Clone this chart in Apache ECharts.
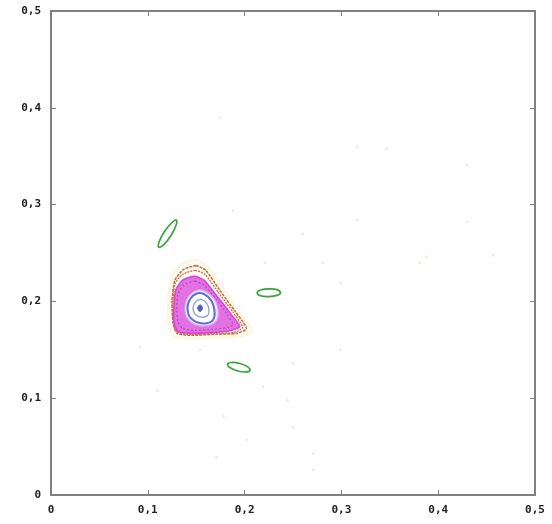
<!DOCTYPE html>
<html>
<head>
<meta charset="utf-8">
<script src="https://cdn.jsdelivr.net/npm/echarts@6/dist/echarts.min.js"></script>
<style>
html,body{margin:0;padding:0;background:#fff;}
#chart{width:552px;height:524px;}
</style>
</head>
<body>
<div id="chart"></div>
<script>
// ---- tick labels ----
const xTickLabels = ['0', '0,1', '0,2', '0,3', '0,4', '0,5'];
const yTickLabels = ['0', '0,1', '0,2', '0,3', '0,4', '0,5'];

// ---- closed orbits (x, y) ----
const greenLoopUpper = [[0.1295,0.284],[0.1250,0.2815],[0.1172,0.2722],[0.1117,0.2616],[0.1115,0.256],[0.1166,0.2586],[0.1238,0.2678],[0.1291,0.2784]];
const greenLoopRight = [[0.237,0.209],[0.2335,0.2122],[0.225,0.213],[0.2165,0.2118],[0.213,0.209],[0.2165,0.2058],[0.225,0.205],[0.2335,0.2062]];
const greenLoopLower = [[0.2056,0.1289],[0.2029,0.1326],[0.195,0.1359],[0.1865,0.1369],[0.1824,0.1351],[0.1851,0.1314],[0.193,0.1281],[0.2015,0.1271]];

const haloLoop = [[0.1494,0.2424],[0.1348,0.2379],[0.1248,0.2256],[0.1214,0.201],[0.1225,0.1763],[0.127,0.164],[0.1438,0.1618],[0.1718,0.1629],[0.1964,0.164],[0.2076,0.1696],[0.1942,0.1898],[0.1763,0.2144],[0.1606,0.2368]];
const outerLoop = [[0.150,0.237],[0.137,0.233],[0.128,0.222],[0.125,0.200],[0.126,0.178],[0.130,0.167],[0.145,0.165],[0.170,0.166],[0.192,0.167],[0.202,0.172],[0.190,0.190],[0.174,0.212],[0.160,0.232]];
const redLoop = [[0.149,0.232],[0.136,0.228],[0.128,0.218],[0.126,0.198],[0.1265,0.178],[0.1305,0.168],[0.145,0.166],[0.169,0.167],[0.189,0.168],[0.198,0.173],[0.188,0.189],[0.173,0.209],[0.159,0.228]];
const magentaLoop = [[0.148,0.226],[0.136,0.222],[0.129,0.212],[0.127,0.195],[0.127,0.178],[0.131,0.169],[0.145,0.167],[0.168,0.168],[0.186,0.170],[0.195,0.174],[0.185,0.188],[0.171,0.206],[0.158,0.222]];
const magentaInnerLoop = [[0.149,0.221],[0.137,0.217],[0.131,0.207],[0.130,0.192],[0.131,0.179],[0.136,0.172],[0.148,0.170],[0.167,0.171],[0.182,0.173],[0.188,0.176],[0.181,0.188],[0.170,0.203],[0.158,0.217]];
const lilacLoop = [[0.152,0.2118],[0.164,0.2073],[0.1715,0.196],[0.1715,0.181],[0.1618,0.175],[0.1482,0.1765],[0.1392,0.1862],[0.1407,0.2028]];
const blueLoop = [[0.1525,0.2086],[0.1624,0.2045],[0.1681,0.1946],[0.1681,0.1823],[0.1607,0.1774],[0.1493,0.1791],[0.1419,0.1873],[0.1427,0.2004]];
const greyLoop = [[0.1536,0.2021],[0.1593,0.1997],[0.1627,0.194],[0.1627,0.1868],[0.1584,0.1839],[0.1516,0.1848],[0.1473,0.1896],[0.1478,0.1973]];
const coreLoop = [[0.1565,0.193],[0.154,0.1965],[0.1515,0.193],[0.154,0.1895]];

// ---- faint chaotic-sea points ----
const seaPoints = [[0.316,0.36],[0.347,0.358],[0.43,0.341],[0.188,0.294],[0.316,0.284],[0.43,0.282],[0.26,0.27],[0.221,0.24],[0.281,0.24],[0.388,0.246],[0.457,0.248],[0.381,0.24],[0.299,0.219],[0.175,0.39],[0.092,0.153],[0.11,0.108],[0.178,0.081],[0.171,0.039],[0.202,0.057],[0.25,0.07],[0.271,0.043],[0.271,0.026],[0.244,0.098],[0.299,0.15],[0.25,0.136],[0.154,0.15],[0.219,0.112]];

// ---- drawing styles (kept apart from the data) ----
const layers = [
  {loop: haloLoop,         stroke: '#fbf7e2', width: 3,   fill: null, smooth: 0.25},
  {loop: outerLoop,        stroke: '#c47438', width: 1.6, fill: '#fffaf4', dash: [3,1], smooth: 0.2},
  {loop: redLoop,          stroke: '#d9683e', width: 1.3, fill: null, dash: [2,1], smooth: 0.2},
  {loop: magentaLoop,      stroke: '#d448d4', width: 1.6, fill: '#e272e2', smooth: 0.2},
  {loop: magentaInnerLoop, stroke: '#c73ccc', width: 1.2, fill: null, dash: [2,2], smooth: 0.2},
  {loop: lilacLoop,        stroke: '#d8aef0', width: 1.2, fill: '#f3e6f8', smooth: 0.35},
  {loop: blueLoop,         stroke: '#5a6fe0', width: 2,   fill: '#ffffff', smooth: 0.35},
  {loop: greyLoop,         stroke: '#8fa8c6', width: 1.4, fill: null, smooth: 0.35},
  {loop: coreLoop,         stroke: '#4a64b0', width: 1,   fill: '#4a64b0', smooth: 0.35},
  {loop: greenLoopUpper,   stroke: '#36a43a', width: 1.7, fill: null, smooth: 0.35},
  {loop: greenLoopRight,   stroke: '#36a43a', width: 1.7, fill: null, smooth: 0.35},
  {loop: greenLoopLower,   stroke: '#36a43a', width: 1.7, fill: null, smooth: 0.35}
];

const chart = echarts.init(document.getElementById('chart'), null, {renderer: 'canvas'});

const frameColor = '#808080';
const labelStyle = {fontFamily: 'DejaVu Sans Mono', fontWeight: 'bold', fontSize: 11, color: '#222'};

function axis(pos, labels, show) {
  return {
    type: 'value', min: 0, max: 0.5, interval: 0.1, position: pos,
    axisLine: {show: true, onZero: false, lineStyle: {color: frameColor, width: 2}},
    axisTick: {show: true, inside: true, length: 5, lineStyle: {color: frameColor, width: 1}},
    splitLine: {show: false},
    axisLabel: Object.assign({show: show, margin: 10,
      formatter: function (v) { const i = Math.round(v * 10); return labels[i]; }}, labelStyle)
  };
}

chart.setOption({
  animation: false,
  backgroundColor: '#ffffff',
  grid: {left: 51, top: 11, width: 484, height: 484, show: false},
  xAxis: [axis('bottom', xTickLabels, true), axis('top', xTickLabels, false)],
  yAxis: [axis('left', yTickLabels, true), axis('right', yTickLabels, false)],
  series: [
    {
      type: 'scatter', xAxisIndex: 0, yAxisIndex: 0,
      data: seaPoints, symbolSize: 3,
      itemStyle: {color: '#e8e8d6'}, silent: true
    },
    {
      type: 'custom', xAxisIndex: 0, yAxisIndex: 0,
      coordinateSystem: 'cartesian2d',
      data: layers.map(function (l, i) { return [i]; }),
      encode: {x: 0, y: 0},
      renderItem: function (params, api) {
        const layer = layers[params.dataIndex];
        const pts = layer.loop.map(function (p) { return api.coord(p); });
        return {
          type: 'polygon',
          shape: {points: pts, smooth: layer.smooth},
          style: {
            fill: layer.fill || 'none',
            stroke: layer.stroke,
            lineWidth: layer.width,
            lineDash: layer.dash || null
          }
        };
      },
      silent: true
    }
  ]
});
</script>
</body>
</html>
